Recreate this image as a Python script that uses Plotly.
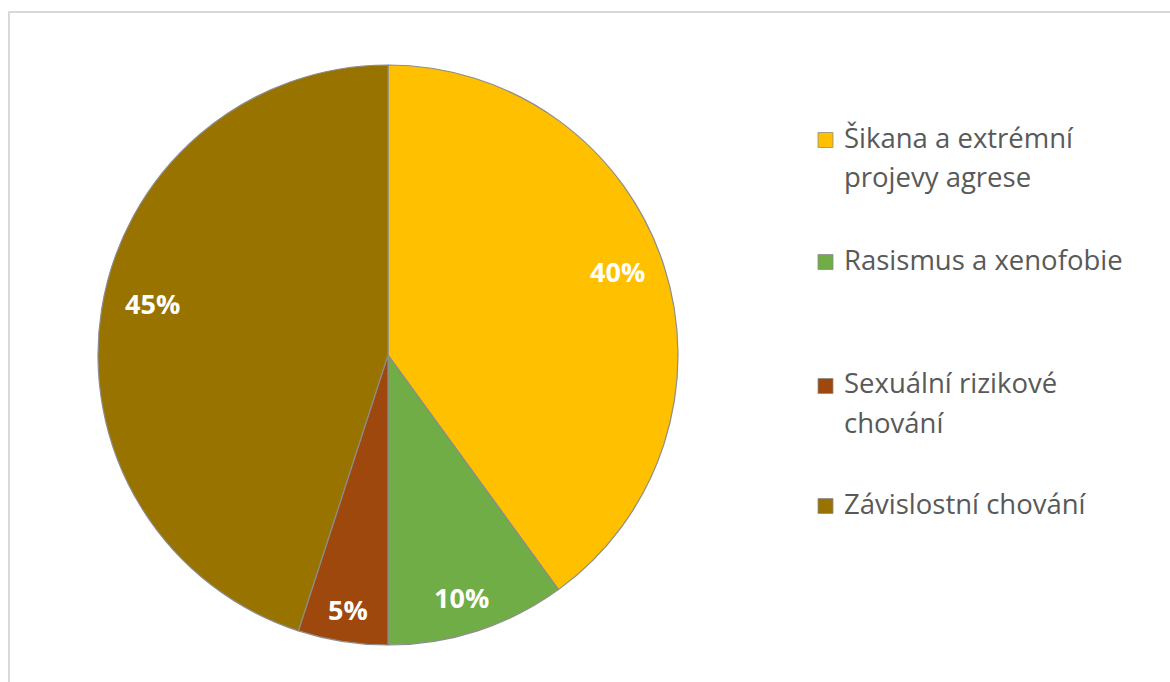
import math
import plotly.graph_objects as go

# Share of prevention programme topics
categories = [
    "Šikana a extrémní projevy agrese",
    "Rasismus a xenofobie",
    "Sexuální rizikové chování",
    "Závislostní chování",
]
legend_lines = [
    ["Šikana a extrémní", "projevy agrese"],
    ["Rasismus a xenofobie"],
    ["Sexuální rizikové", "chování"],
    ["Závislostní chování"],
]
values = [40, 10, 5, 45]
colors = ["#FFC000", "#70AD47", "#9E480E", "#997300"]

W, H = 1170, 682
CX, CY, R = 388, 355, 290          # pie centre and radius in pixels
FONT = "Open Sans"

# small pixel nudges for the percentage labels (layout only)
label_nudge = [(0, -9), (-4, 5), (0, 3), (4, -13)]


def px(x):
    return x / W


def py(y):
    return 1 - y / H


fig = go.Figure()
fig.add_trace(go.Pie(
    labels=categories,
    values=values,
    marker=dict(colors=colors, line=dict(color="#8c8c8c", width=1.2)),
    sort=False,
    direction="clockwise",
    rotation=0,
    textinfo="none",
    hoverinfo="label+percent",
    showlegend=False,
    domain=dict(x=[px(CX - R), px(CX + R)], y=[py(CY + R), py(CY - R)]),
))

annotations = []
shapes = []

# Percentage labels placed just inside the outer edge of each slice
total = sum(values)
cum = 0
for v, (ndx, ndy) in zip(values, label_nudge):
    mid = 2 * math.pi * (cum + v / 2) / total
    cum += v
    text = f"{round(100 * v / total)}%"
    w, h = 18 * len(text), 30
    s, c = math.sin(mid), math.cos(mid)
    half = abs(s) * w / 2 + abs(c) * h / 2
    r = R - 18 - half
    annotations.append(dict(
        x=px(CX + r * s + ndx), y=py(CY - r * c + ndy),
        xref="paper", yref="paper",
        text=f"<b>{text}</b>", showarrow=False,
        font=dict(family=FONT, size=27, color="white"),
        xanchor="center", yanchor="middle",
    ))

# Legend drawn on the right: coloured square plus wrapped label
entry_y = [137, 259, 383, 503]
line_gap = 39
for lines, col, y0 in zip(legend_lines, colors, entry_y):
    shapes.append(dict(
        type="rect", xref="paper", yref="paper",
        x0=px(818), x1=px(833), y0=py(y0 + 3 + 7.5), y1=py(y0 + 3 - 7.5),
        fillcolor=col, line=dict(color="#8c8c8c", width=0.8),
    ))
    for i, ln in enumerate(lines):
        annotations.append(dict(
            x=px(842), y=py(y0 + i * line_gap), xref="paper", yref="paper",
            text=ln, showarrow=False,
            font=dict(family=FONT, size=27.5, color="#595959"),
            xanchor="left", yanchor="middle",
        ))

# Chart area frame
shapes.append(dict(
    type="rect", xref="paper", yref="paper",
    x0=px(9), x1=px(W + 20), y0=py(H + 20), y1=py(12),
    line=dict(color="#d9d9d9", width=2), fillcolor="rgba(0,0,0,0)",
))

fig.update_layout(
    width=W, height=H,
    margin=dict(l=0, r=0, t=0, b=0),
    paper_bgcolor="white",
    plot_bgcolor="white",
    annotations=annotations,
    shapes=shapes,
    font=dict(family=FONT),
)

fig.write_html("out.html")
